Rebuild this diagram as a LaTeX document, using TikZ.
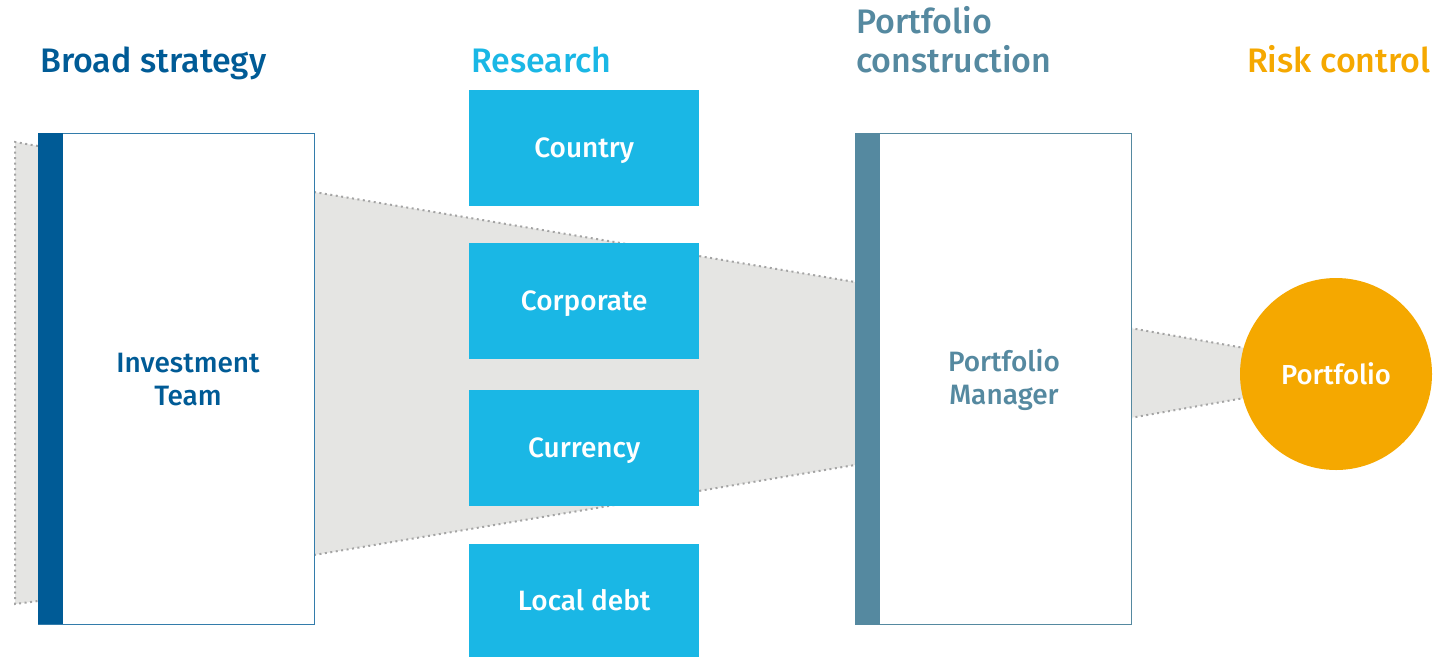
\documentclass[tikz,border=0pt]{standalone}
\usepackage{fontspec}
\setmainfont{Fira Sans}[UprightFont={* Medium}]
\definecolor{dblue}{HTML}{005B96}
\definecolor{lblue}{HTML}{1AB7E5}
\definecolor{steel}{HTML}{5589A0}
\definecolor{orng}{HTML}{F5A800}
\definecolor{fgray}{HTML}{E5E5E3}
\definecolor{dgray}{HTML}{A4A4A4}
\begin{document}
\begin{tikzpicture}[x=1pt,y=-1pt,
  title/.style={anchor=base west,inner sep=0pt,font=\fontsize{34}{40}\selectfont},
  funnel/.style={fill=fgray},
  dotline/.style={draw=dgray,line width=2pt,dash pattern=on 2pt off 3.5pt},
  bigbox/.style={draw=#1,line width=0.9pt,fill=white,minimum width=276pt,minimum height=491pt,inner sep=0pt,anchor=north west},
  bar/.style={fill=#1,minimum width=25pt,minimum height=491pt,inner sep=0pt,anchor=north west},
  resbox/.style={fill=lblue,text=white,minimum width=230pt,minimum height=116pt,inner sep=0pt,anchor=north west,text height=19.5pt,text depth=0pt,font=\fontsize{28}{33}\selectfont},
  label/.style={align=center,font=\fontsize{28}{33}\selectfont}
]
\useasboundingbox (0,0) rectangle (1447,657);
% funnels
\coordinate (l1) at (15,142); \coordinate (l2) at (38,146);
\coordinate (l3) at (38,601); \coordinate (l4) at (15,604);
\fill[funnel] (l1)--(l2)--(l3)--(l4)--cycle;
\draw[dotline] (l2)--(l1)--(l4)--(l3);
\coordinate (m1) at (314,192); \coordinate (m2) at (855,282);
\coordinate (m3) at (855,465); \coordinate (m4) at (314,555);
\fill[funnel] (m1)--(m2)--(m3)--(m4)--cycle;
\draw[dotline] (m1)--(m2); \draw[dotline] (m4)--(m3);
\coordinate (r1) at (1130,328); \coordinate (r2) at (1250,349);
\coordinate (r3) at (1250,397); \coordinate (r4) at (1130,418);
\fill[funnel] (r1)--(r2)--(r3)--(r4)--cycle;
\draw[dotline] (r1)--(r2); \draw[dotline] (r4)--(r3);
% titles
\node[title,text=dblue] (t1) at (40,72) {Broad strategy};
\node[title,text=lblue] (t2) at (471,72) {Research};
\node[title,text=steel] (t3a) at (856,33) {Portfolio};
\node[title,text=steel] (t3b) at (856,72) {construction};
\node[title,text=orng] (t4) at (1247,72) {Risk control};
% investment team
\node[bigbox=dblue!80] (it) at (38,133) {};
\node[bar=dblue] (itbar) at (38,133) {};
\node[label,text=dblue] (itl) at (188,380) {Investment\\Team};
% research
\node[resbox] (c1) at (469,90) {Country};
\node[resbox] (c2) at (469,243) {Corporate};
\node[resbox] (c3) at (469,390) {Currency};
\node[resbox,minimum height=113pt] (c4) at (469,544) {Local debt};
% portfolio manager
\node[bigbox=steel] (pm) at (855,133) {};
\node[bar=steel] (pmbar) at (855,133) {};
\node[label,text=steel] (pml) at (1004,380) {Portfolio\\Manager};
% portfolio circle
\node[circle,fill=orng,text=white,minimum size=192pt,inner sep=0pt,font=\fontsize{27.5}{32}\selectfont] (pf) at (1336,374) {\raisebox{-2pt}{Portfolio}};
\end{tikzpicture}
\end{document}
